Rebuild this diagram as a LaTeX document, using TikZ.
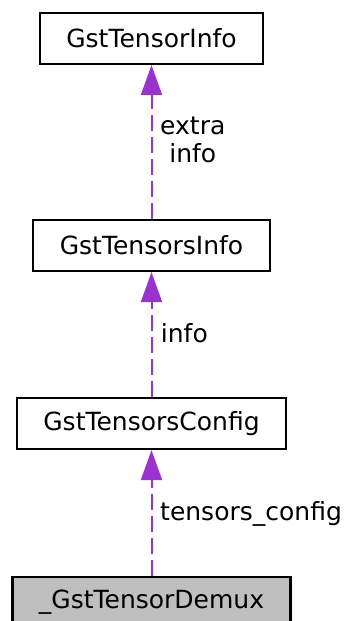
\documentclass[tikz,border=0pt]{standalone}
\usepackage{fontspec}
\setmainfont{DejaVu Sans}
\usetikzlibrary{arrows.meta}
\definecolor{darkorchid}{HTML}{9A32CD}
\definecolor{demuxgray}{HTML}{BFBFBF}

\begin{document}
\begin{tikzpicture}[x=1pt,y=1pt]
    %
    % `class' is used for the struct boxes.
    % `member' is used for the dashed usage arrows.
    % `lbl' is used for the member names.
    \tikzstyle{class} = [draw,fill=white,line width=2.2pt,inner xsep=26.5pt,inner ysep=0pt,minimum height=51pt,font=\fontsize{25}{28}\selectfont]
    \tikzstyle{member} = [draw=darkorchid,line width=2pt,dash pattern=on 16pt off 6pt,-{Triangle[length=30pt,width=21pt,fill=darkorchid]}]
    \tikzstyle{lbl} = [inner sep=0pt,align=center,font=\fontsize{25}{28}\selectfont]
    %
    \useasboundingbox (0,0) rectangle (350,-621);
    %
    % Structs
    \node[class] (tensorinfo) at (151.5,-38.5) {GstTensorInfo};
    \node[class] (tensorsinfo) at (151.5,-245.5) {GstTensorsInfo};
    \node[class] (tensorsconfig) at (151.5,-423.5) {GstTensorsConfig};
    \node[class,fill=demuxgray] (demux) at (151.5,-602.5) {\_GstTensorDemux};
    %
    % Members
    \draw[member] (tensorsinfo) -- (tensorinfo);
    \draw[member] (tensorsconfig) -- (tensorsinfo);
    \draw[member] (demux) -- (tensorsconfig);
    %
    % Member names
    \node[lbl,anchor=west] (lextra) at (160,-140) {extra\\info};
    \node[lbl,anchor=base west] (linfo) at (160.7,-342) {info};
    \node[lbl,anchor=base west] (lconfig) at (160,-520) {tensors\_config};
    %
\end{tikzpicture}
\end{document}
